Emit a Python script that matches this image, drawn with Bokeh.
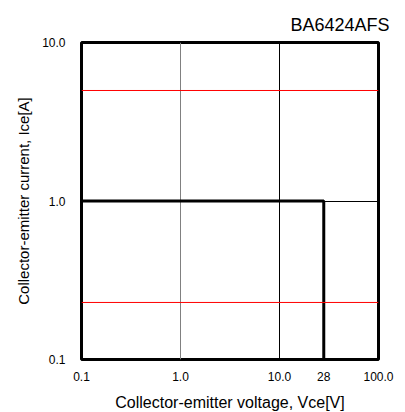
from bokeh.plotting import figure
from bokeh.models import FixedTicker, Grid, Span
from bokeh.embed import file_html
from bokeh.resources import INLINE

# Data
title_text = "BA6424AFS"
x_label = "Collector-emitter voltage, Vce[V]"
y_label = "Collector-emitter current, Ice[A]"
x_ticks = [0.1, 1.0, 10.0, 28.0, 100.0]
x_tick_labels = ["0.1", "1.0", "10.0", "28", "100.0"]
y_ticks = [0.1, 1.0, 10.0]
y_tick_labels = ["0.1", "1.0", "10.0"]
soa_vce = [0.1, 28.0, 28.0]
soa_ice = [1.0, 1.0, 0.1]
grid_x_grey = [1.0]
grid_x_black = [10.0]
grid_y_black = [1.0]

FONT = "Liberation Sans"

p = figure(
    x_axis_type="log", y_axis_type="log",
    x_range=(0.1, 100.0), y_range=(0.1, 10.0),
    frame_width=297, frame_height=317,
    min_border_left=81, min_border_right=24,
    min_border_top=42, min_border_bottom=53,
    output_backend="svg", toolbar_location=None,
    background_fill_color="white", border_fill_color="white",
)

p.title.text = title_text
p.title.align = "right"
p.title.text_font = FONT
p.title.text_font_size = "18px"
p.title.text_font_style = "normal"
p.title.text_color = "black"
p.title.offset = -11
p.title.standoff = 16

p.outline_line_color = "black"
p.outline_line_width = 3
p.outline_line_alpha = 1.0

p.xgrid.visible = False
p.ygrid.visible = False

g1 = Grid(dimension=0, ticker=FixedTicker(ticks=grid_x_grey),
          grid_line_color="#808080", grid_line_width=1)
g2 = Grid(dimension=0, ticker=FixedTicker(ticks=grid_x_black),
          grid_line_color="black", grid_line_width=1)
g3 = Grid(dimension=1, ticker=FixedTicker(ticks=grid_y_black),
          grid_line_color="black", grid_line_width=1)
for g in (g1, g2, g3):
    p.add_layout(g, "center")

# diagnostic guides at reference label ends
p.add_layout(Span(location=4.98, dimension="width", line_color="red"))
p.add_layout(Span(location=0.229, dimension="width", line_color="red"))

p.line(soa_vce, soa_ice, line_color="black", line_width=3)

for ax, ticks, labels in ((p.xaxis[0], x_ticks, x_tick_labels),
                          (p.yaxis[0], y_ticks, y_tick_labels)):
    ax.ticker = FixedTicker(ticks=ticks)
    ax.major_label_overrides = {t: l for t, l in zip(ticks, labels)}
    ax.axis_line_color = None
    ax.major_tick_line_color = None
    ax.minor_tick_line_color = None
    ax.major_tick_out = 0
    ax.major_tick_in = 0
    ax.minor_tick_out = 0
    ax.major_label_text_font = FONT
    ax.major_label_text_font_size = "12px"
    ax.major_label_text_color = "black"
    ax.axis_label_text_font = FONT
    ax.axis_label_text_font_style = "normal"
    ax.axis_label_text_color = "black"

p.xaxis.axis_label = x_label
p.yaxis.axis_label = y_label
p.xaxis.axis_label_text_font_size = "16px"
p.yaxis.axis_label_text_font_size = "15px"
p.xaxis.major_label_standoff = 12
p.xaxis.axis_label_standoff = 10
p.yaxis.major_label_standoff = 16
p.yaxis.axis_label_standoff = 7
p.yaxis.axis_label_text_align = "center"
p.yaxis.axis_label_text_baseline = "middle"

open("out.html", "w").write(file_html(p, INLINE))
